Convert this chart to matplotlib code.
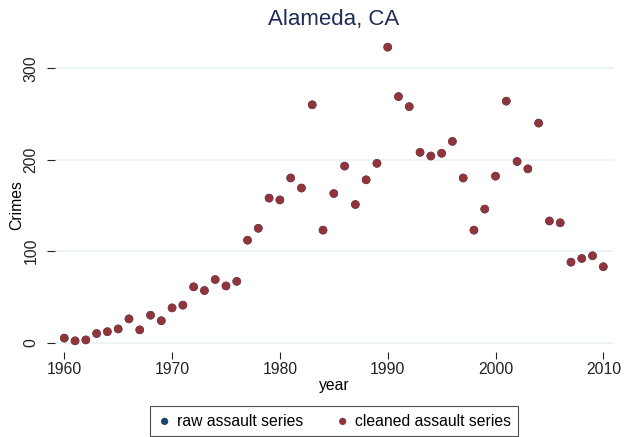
import matplotlib
matplotlib.use("Agg")
import matplotlib.pyplot as plt

years = list(range(1960, 2011))
cleaned = [5, 2, 3, 10, 12, 15, 26, 14, 30, 24,
           38, 41, 61, 57, 69, 62, 67, 112, 125, 158,
           156, 180, 169, 260, 123, 163, 193, 151, 178, 196,
           323, 269, 258, 208, 204, 207, 220, 180, 123, 146,
           182, 264, 198, 190, 240, 133, 131, 88, 92, 95,
           83]
raw = list(cleaned)
xticks = [1960, 1970, 1980, 1990, 2000, 2010]
yticks = [0, 100, 200, 300]

plt.rcParams['font.family'] = ['Liberation Sans', 'DejaVu Sans']

W, H = 625, 437
fig = plt.figure(figsize=(W / 100, H / 100), dpi=100)
L, R, T, B = 55, 614, 38, 352
ax = fig.add_axes([L / W, 1 - B / H, (R - L) / W, (B - T) / H])

navy = '#1a476f'
maroon = '#90353b'

ax.scatter(years, raw, s=38, color=navy, edgecolors='none', zorder=3,
           label='raw assault series')
ax.scatter(years, cleaned, s=38, color=maroon, edgecolors='none', zorder=4,
           label='cleaned assault series')

ax.set_xlim(1959.14, 2010.99)
ax.set_ylim(-10.2, 333)
ax.set_xticks(xticks)
ax.set_yticks(yticks)
ax.set_yticklabels([str(v) for v in yticks], rotation=90, va='center')
for s in ax.spines.values():
    s.set_visible(False)
ax.grid(axis='y', color='#eaf2f3', linewidth=1.2, zorder=0)
ax.set_axisbelow(True)
ax.tick_params(axis='both', labelsize=11.3, colors='#222222', width=0.8)
ax.tick_params(axis='y', length=5.8, pad=6)
ax.tick_params(axis='x', length=5.0, pad=2)

ax.set_xlabel('year', fontsize=11.3)
ax.xaxis.set_label_coords(334 / W, 1 - 378 / H, transform=fig.transFigure)
ax.set_ylabel('Crimes', fontsize=11.3)
ax.yaxis.set_label_coords(24 / W, 1 - 205 / H, transform=fig.transFigure)

fig.text(334 / W, 1 - 20 / H, 'Alameda, CA', ha='center', va='center',
         fontsize=16, color='#1e2c56')

leg = fig.legend(loc='center', bbox_to_anchor=(334 / W, 1 - 421 / H), ncol=2,
                 frameon=True, fancybox=False, fontsize=11.3, markerscale=0.85,
                 handletextpad=0.3, columnspacing=2.0, borderpad=0.45,
                 handlelength=1.0)
leg.get_frame().set_edgecolor('#222222')
leg.get_frame().set_linewidth(0.8)

fig.savefig('out.png', dpi=100, facecolor='white')
